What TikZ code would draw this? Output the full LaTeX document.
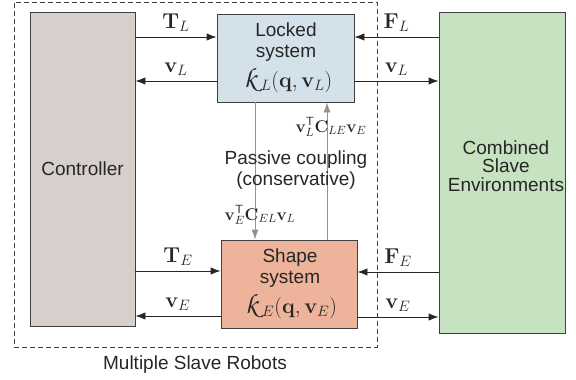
\RequirePackage{fix-cm}
\documentclass[tikz,border=0pt]{standalone}
\usepackage[T1]{fontenc}
\usepackage[no-math]{fontspec}
\setmainfont{Liberation Sans}
\usetikzlibrary{arrows.meta}
\definecolor{ctrlfill}{HTML}{D7CFCC}
\definecolor{lockfill}{HTML}{D3E1EA}
\definecolor{shapefill}{HTML}{EDB49B}
\definecolor{envfill}{HTML}{C6E2C0}
\definecolor{couplecol}{HTML}{9C8E8B}
\definecolor{txt}{HTML}{262626}
\newcommand{\zck}{\mbox{\usefont{T1}{pzc}{m}{it}\fontsize{28}{28}\selectfont k}\mkern4mu}
\begin{document}
\begin{tikzpicture}[x=1pt,y=-1pt,
  blk/.style={draw=black!75, line width=0.9pt, inner sep=0pt, align=center,
    text=txt, font=\fontsize{19}{21.5}\selectfont},
  arr/.style={-{Latex[length=10pt,width=7.5pt]}, line width=0.9pt, draw=black!85},
  carr/.style={-{Latex[length=10pt,width=7pt]}, line width=0.9pt, draw=couplecol, fill=couplecol},
  lab/.style={text=txt, font=\fontsize{19}{21.5}\selectfont, inner sep=0pt},
  mlab/.style={text=txt, font=\fontsize{21.5}{24}\selectfont, inner sep=0pt},
  slab/.style={text=txt, font=\fontsize{17}{19}\selectfont, inner sep=0pt},
  frame/.style={draw=black!75, line width=0.8pt, dash pattern=on 5pt off 3pt}
]
\useasboundingbox (0,0) rectangle (576,380);
% dashed frame
\node[frame, minimum width=363pt, minimum height=345pt, inner sep=0pt] (robots) at (195.5,174.5) {};
\node[lab] (robotslab) at (195,365) {Multiple Slave Robots};
% blocks
\node[blk, fill=ctrlfill, minimum width=105pt, minimum height=314pt] (ctrl) at (82.5,169) {Controller};
\node[blk, fill=lockfill, minimum width=137pt, minimum height=88pt] (lock) at (285.5,58) {};
\node[blk, fill=shapefill, minimum width=136pt, minimum height=88pt] (shape) at (289,284) {};
\node[blk, fill=envfill, minimum width=126pt, minimum height=321pt] (env) at (502,172.5) {};
% block texts
\node[lab, align=center] (locktxt) at (286,42) {Locked\\system};
\node[mlab] (lockk) at (288,80) {$\zck_{L}(\mathbf{q},\mathbf{v}_{L})$};
\node[lab, align=center] (shapetxt) at (290,268) {Shape\\system};
\node[mlab] (shapek) at (291,306) {$\zck_{E}(\mathbf{q},\mathbf{v}_{E})$};
\node[lab, align=center, font=\fontsize{19}{18.5}\selectfont] (envtxt) at (506,166) {Combined\\Slave\\Environments};
% left arrows
\draw[arr] (ctrl.east |- 0,37) -- node[mlab, above=5pt] (tl) {$\mathbf{T}_{L}$} (lock.west |- 0,37);
\draw[arr] (lock.west |- 0,81) -- node[mlab, above=5pt] (vl1) {$\mathbf{v}_{L}$} (ctrl.east |- 0,81);
\draw[arr] (ctrl.east |- 0,271) -- node[mlab, above=5pt] (te) {$\mathbf{T}_{E}$} (shape.west |- 0,271);
\draw[arr] (shape.west |- 0,316) -- node[mlab, above=5pt] (ve1) {$\mathbf{v}_{E}$} (ctrl.east |- 0,316);
% right arrows
\draw[arr] (env.west |- 0,37) -- node[mlab, above=5pt] (fl) {$\mathbf{F}_{L}$} (lock.east |- 0,37);
\draw[arr] (lock.east |- 0,81) -- node[mlab, above=5pt] (vl2) {$\mathbf{v}_{L}$} (env.west |- 0,81);
\draw[arr] (env.west |- 0,272) -- node[mlab, above=5pt] (fe) {$\mathbf{F}_{E}$} (shape.east |- 0,272);
\draw[arr] (shape.east |- 0,317) -- node[mlab, above=5pt] (ve2) {$\mathbf{v}_{E}$} (env.west |- 0,317);
% coupling
\draw[carr] (lock.south -| 255,0) -- (shape.north -| 255,0);
\draw[carr] (shape.north -| 327,0) -- (lock.south -| 327,0);
\node[slab] (cle) at (331,127) {$\mathbf{v}_{L}^{\mathsf{T}}\mathbf{C}_{LE}\mathbf{v}_{E}$};
\node[slab] (cel) at (260,215) {$\mathbf{v}_{E}^{\mathsf{T}}\mathbf{C}_{EL}\mathbf{v}_{L}$};
\node[lab, align=center] (passive) at (296,170) {Passive coupling\\(conservative)};
\end{tikzpicture}
\end{document}
